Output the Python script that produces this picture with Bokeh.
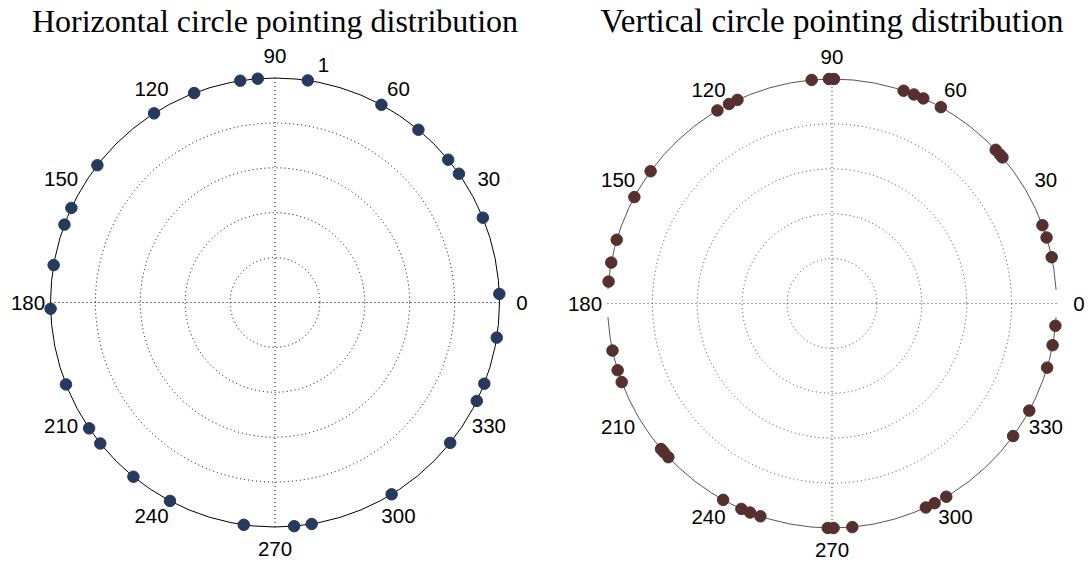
import numpy as np
from bokeh.plotting import figure
from bokeh.layouts import row
from bokeh.models import Range1d, ColumnDataSource
from bokeh.core.properties import value
from bokeh.embed import file_html
from bokeh.resources import INLINE

# ---------------- data ----------------
left_title = "Horizontal circle pointing distribution"
right_title = "Vertical circle pointing distribution"

# pointing directions (degrees), all on the unit circle
left_angles = [2.2, 22.2, 35.0, 39.5, 50.3, 61.7, 81.6, 94.4, 98.9, 111.1,
               122.6, 142.3, 155.1, 159.7, 170.4, 181.6, 201.4, 214.1, 218.9,
               230.9, 242.1, 262.0, 274.9, 279.4, 301.3, 321.3, 334.0, 338.8,
               351.0]
right_angles = [11.9, 17.1, 20.4, 40.6, 41.6, 43.2, 61.0, 66.0, 68.6, 71.4,
                89.5, 90.8, 95.2, 114.9, 117.3, 120.7, 143.9, 151.7, 163.5,
                169.5, 174.4, 192.1, 197.3, 200.5, 220.4, 221.5, 223.2, 241.0,
                246.2, 248.6, 251.4, 268.9, 270.4, 275.2, 294.7, 297.2, 300.6,
                323.8, 331.5, 343.4, 349.3, 354.3]
left_radius = [1.0] * len(left_angles)
right_radius = [1.0] * len(right_angles)

angle_ticks = list(range(0, 360, 30))
angle_tick_labels = [str(a) for a in angle_ticks]
ring_radii = [0.2, 0.4, 0.6, 0.8]
left_ring_label = "1"
right_outer_arcs = [(3.5, 176.3), (183.5, 356.5)]

# ---------------- layout constants ----------------
W, H = 544, 560
R = 224.5  # pixels per radial unit


def polar_xy(ang_deg, r):
    a = np.radians(np.asarray(ang_deg, dtype=float))
    r = np.asarray(r, dtype=float)
    return r * np.cos(a), r * np.sin(a)


def make_panel(title, angles, radius, color, cx, cy, outer_color, grid_color,
               title_size, arcs=None, ring_label=None):
    p = figure(width=W, height=H, output_backend="svg", toolbar_location=None,
               x_axis_type=None, y_axis_type=None, min_border=0,
               x_range=Range1d(-cx / R, (W - cx) / R),
               y_range=Range1d(-(H - cy) / R, cy / R))
    p.grid.visible = False
    p.outline_line_color = None
    p.background_fill_color = "white"
    p.border_fill_color = "white"

    # dotted rings
    p.circle(x=[0] * len(ring_radii), y=[0] * len(ring_radii), radius=ring_radii,
             fill_color=None, line_color=grid_color, line_width=1,
             line_dash="1 3")
    # dotted cross
    p.segment(x0=[-1, 0], y0=[0, -1], x1=[1, 0], y1=[0, 1],
              line_color=grid_color, line_width=1, line_dash="1 3")
    # outer circle
    if arcs is None:
        p.circle(x=[0], y=[0], radius=[1.0], fill_color=None,
                 line_color=outer_color, line_width=1)
    else:
        p.arc(x=[0] * len(arcs), y=[0] * len(arcs), radius=1.0,
              start_angle=[np.radians(a[0]) for a in arcs],
              end_angle=[np.radians(a[1]) for a in arcs],
              direction="anticlock", line_color=outer_color, line_width=1)

    # angle labels
    lx, ly = polar_xy(angle_ticks, [1.1] * len(angle_ticks))
    p.text(x=lx, y=ly, text=angle_tick_labels, text_align="center",
           text_baseline="middle", text_font=value("Liberation Sans"),
           text_font_size="20.5px", text_color="black")
    if ring_label is not None:
        rx, ry = polar_xy([78.5], [1.08])
        p.text(x=rx, y=ry, text=[ring_label], text_align="center",
               text_baseline="middle", text_font=value("Liberation Sans"),
               text_font_size="20.5px", text_color="black")

    # data points
    px, py = polar_xy(angles, radius)
    src = ColumnDataSource(dict(x=px, y=py))
    p.scatter("x", "y", source=src, size=11.5, fill_color=color,
              line_color=color, line_width=1)

    # title
    p.text(x=[0], y=[(cy - 20) / R], text=[title], text_align="center",
           text_baseline="middle", text_font=value("Liberation Serif"),
           text_font_size=title_size, text_color="black")
    return p


p1 = make_panel(left_title, left_angles, left_radius, "#263a5e", 274.5, 302,
                "black", "black", "32px", arcs=None, ring_label=left_ring_label)
p2 = make_panel(right_title, right_angles, right_radius, "#55302e", 287.5, 303,
                "#555555", "#444444", "33px", arcs=right_outer_arcs)

layout = row(p1, p2, spacing=0)
open("out.html", "w").write(file_html(layout, INLINE))
